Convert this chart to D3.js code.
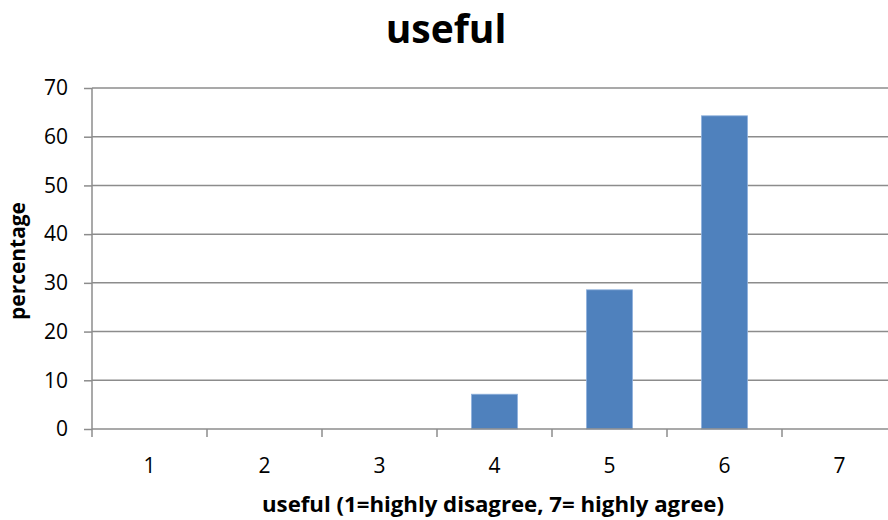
<!DOCTYPE html>
<html>
<head>
<meta charset="utf-8">
<script src="https://cdn.jsdelivr.net/npm/d3@7"></script>
<style>
  html, body { margin: 0; padding: 0; background: #fff; }
  svg { display: block; font-family: "Open Sans", "Lato", sans-serif; }
</style>
</head>
<body>
<svg id="chart" width="888" height="520"></svg>
<script>
// Rating categories and share of responses (%)
const categories = ["1", "2", "3", "4", "5", "6", "7"];
const percentages = [0, 0, 0, 7.14, 28.57, 64.29, 0];
const yTicks = [0, 10, 20, 30, 40, 50, 60, 70];

const svg = d3.select("#chart");
const plotLeft = 92, plotRight = 897, plotTop = 88, plotBottom = 429;
const gridColor = "#8c8c8c";
const barColor = "#4f81bd";

const x = d3.scaleBand()
  .domain(categories)
  .range([plotLeft, plotRight])
  .paddingInner(0.6)
  .paddingOuter(0.3);

const y = d3.scaleLinear().domain([0, 70]).range([plotBottom, plotTop]);

// Horizontal gridlines
svg.append("g")
  .selectAll("line")
  .data(yTicks.filter(d => d > 0))
  .join("line")
  .attr("x1", plotLeft).attr("x2", 888)
  .attr("y1", d => y(d)).attr("y2", d => y(d))
  .attr("stroke", gridColor).attr("stroke-width", 1.5);

// Y axis
const yAxis = svg.append("g")
  .attr("transform", `translate(${plotLeft},0)`)
  .call(d3.axisLeft(y).tickValues(yTicks).tickSize(8).tickPadding(16));
yAxis.select(".domain").remove();
yAxis.selectAll(".tick line").attr("stroke", gridColor).attr("stroke-width", 1.5);
yAxis.selectAll(".tick text")
  .attr("font-size", 21).attr("fill", "#000")
  .attr("font-family", "Open Sans, Lato, sans-serif");
svg.append("line")
  .attr("x1", plotLeft).attr("x2", plotLeft)
  .attr("y1", plotTop).attr("y2", plotBottom + 8)
  .attr("stroke", gridColor).attr("stroke-width", 1.5);

// Bars
svg.append("g")
  .selectAll("rect")
  .data(categories.map((c, i) => ({ c, v: percentages[i] })).filter(d => d.v > 0))
  .join("rect")
  .attr("x", d => x(d.c))
  .attr("width", x.bandwidth())
  .attr("y", d => y(d.v))
  .attr("height", d => y(0) - y(d.v))
  .attr("fill", barColor)
  .attr("stroke", "#8eb0dc").attr("stroke-width", 0.8);

// X axis baseline and category dividers
svg.append("line")
  .attr("x1", plotLeft).attr("x2", 888)
  .attr("y1", plotBottom).attr("y2", plotBottom)
  .attr("stroke", gridColor).attr("stroke-width", 1.5);
const gap = (x.step() - x.bandwidth()) / 2;
svg.append("g")
  .selectAll("line")
  .data(categories.slice(1))
  .join("line")
  .attr("x1", d => x(d) - gap)
  .attr("x2", d => x(d) - gap)
  .attr("y1", plotBottom).attr("y2", plotBottom + 8)
  .attr("stroke", gridColor).attr("stroke-width", 1.5);

// Category labels
svg.append("g")
  .selectAll("text")
  .data(categories)
  .join("text")
  .attr("x", d => x(d) + x.bandwidth() / 2)
  .attr("y", 473)
  .attr("text-anchor", "middle")
  .attr("font-size", 21)
  .text(d => d);

// Title
svg.append("text")
  .attr("x", 446).attr("y", 43)
  .attr("text-anchor", "middle")
  .attr("font-size", 39).attr("font-weight", "bold")
  .text("useful");

// Axis titles
svg.append("text")
  .attr("x", 493).attr("y", 512)
  .attr("text-anchor", "middle")
  .attr("font-size", 22).attr("font-weight", "bold")
  .attr("textLength", 462).attr("lengthAdjust", "spacingAndGlyphs")
  .text("useful (1=highly disagree, 7= highly agree)");

svg.append("text")
  .attr("transform", "translate(25,261) rotate(-90)")
  .attr("text-anchor", "middle")
  .attr("font-size", 21).attr("font-weight", "bold")
  .attr("textLength", 118).attr("lengthAdjust", "spacingAndGlyphs")
  .text("percentage");
</script>
</body>
</html>
